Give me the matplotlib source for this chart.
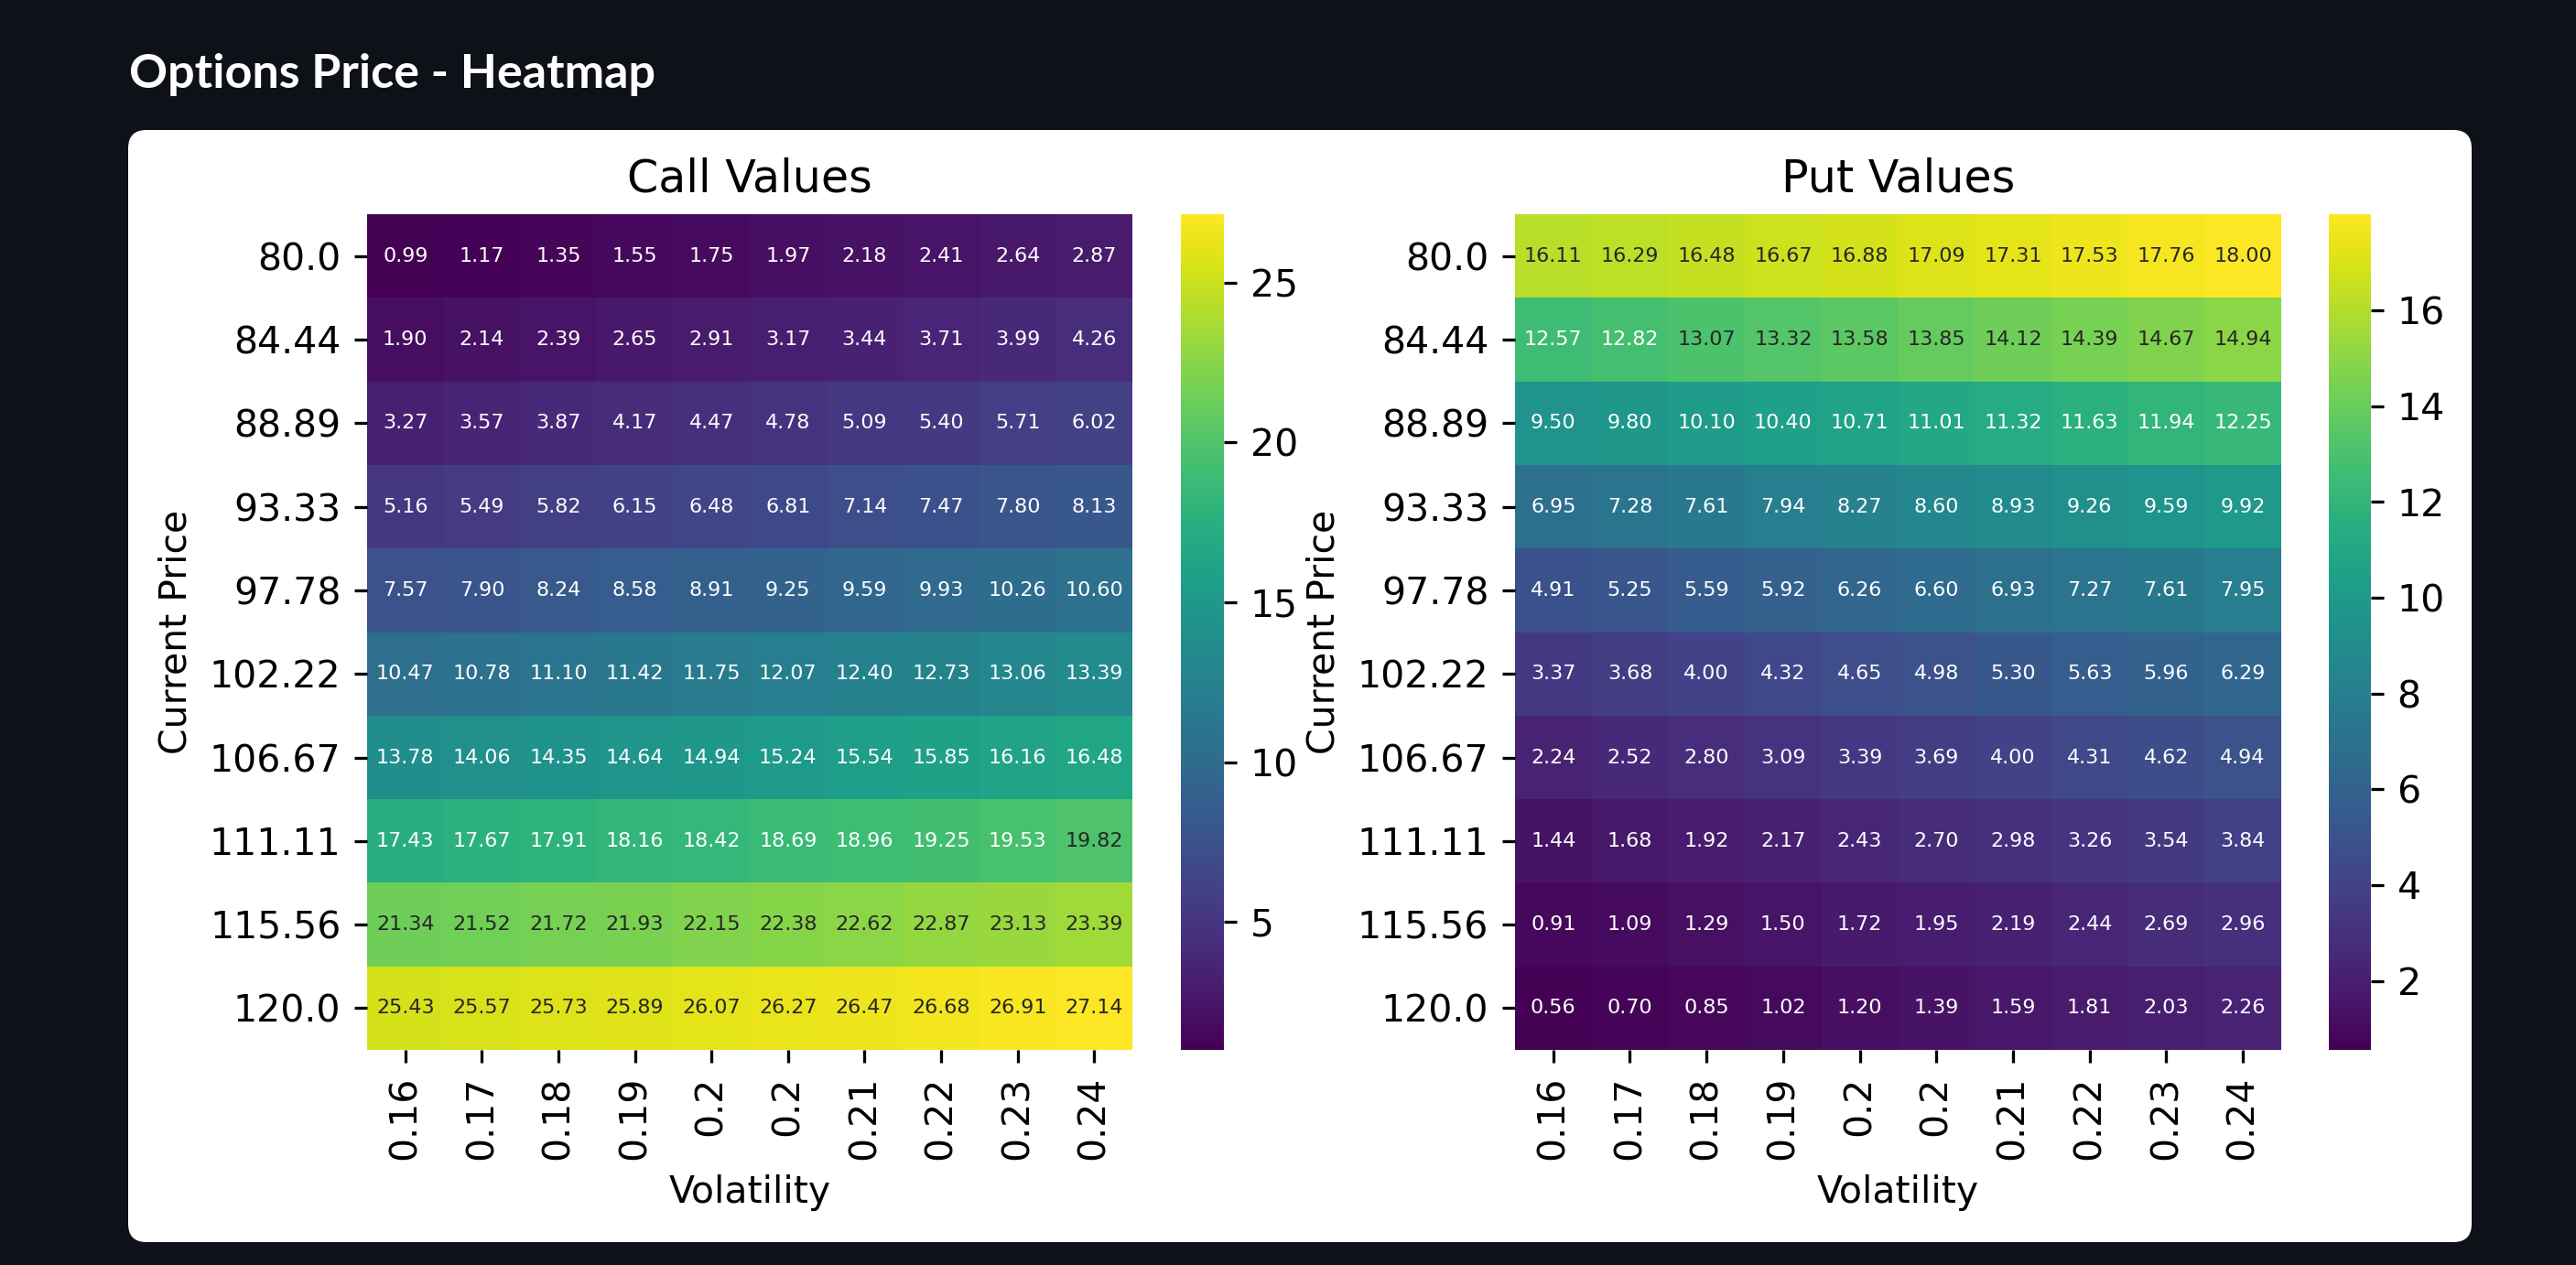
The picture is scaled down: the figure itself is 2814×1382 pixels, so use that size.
import numpy as np
import matplotlib
matplotlib.use("Agg")
import matplotlib.pyplot as plt
from matplotlib.patches import FancyBboxPatch

# Data
volatility_labels = ["0.16", "0.17", "0.18", "0.19", "0.2", "0.2", "0.21", "0.22", "0.23", "0.24"]
price_labels = ["80.0", "84.44", "88.89", "93.33", "97.78", "102.22", "106.67", "111.11", "115.56", "120.0"]

call_values = [
    [0.99, 1.17, 1.35, 1.55, 1.75, 1.97, 2.18, 2.41, 2.64, 2.87],
    [1.90, 2.14, 2.39, 2.65, 2.91, 3.17, 3.44, 3.71, 3.99, 4.26],
    [3.27, 3.57, 3.87, 4.17, 4.47, 4.78, 5.09, 5.40, 5.71, 6.02],
    [5.16, 5.49, 5.82, 6.15, 6.48, 6.81, 7.14, 7.47, 7.80, 8.13],
    [7.57, 7.90, 8.24, 8.58, 8.91, 9.25, 9.59, 9.93, 10.26, 10.60],
    [10.47, 10.78, 11.10, 11.42, 11.75, 12.07, 12.40, 12.73, 13.06, 13.39],
    [13.78, 14.06, 14.35, 14.64, 14.94, 15.24, 15.54, 15.85, 16.16, 16.48],
    [17.43, 17.67, 17.91, 18.16, 18.42, 18.69, 18.96, 19.25, 19.53, 19.82],
    [21.34, 21.52, 21.72, 21.93, 22.15, 22.38, 22.62, 22.87, 23.13, 23.39],
    [25.43, 25.57, 25.73, 25.89, 26.07, 26.27, 26.47, 26.68, 26.91, 27.14],
]

put_values = [
    [16.11, 16.29, 16.48, 16.67, 16.88, 17.09, 17.31, 17.53, 17.76, 18.00],
    [12.57, 12.82, 13.07, 13.32, 13.58, 13.85, 14.12, 14.39, 14.67, 14.94],
    [9.50, 9.80, 10.10, 10.40, 10.71, 11.01, 11.32, 11.63, 11.94, 12.25],
    [6.95, 7.28, 7.61, 7.94, 8.27, 8.60, 8.93, 9.26, 9.59, 9.92],
    [4.91, 5.25, 5.59, 5.92, 6.26, 6.60, 6.93, 7.27, 7.61, 7.95],
    [3.37, 3.68, 4.00, 4.32, 4.65, 4.98, 5.30, 5.63, 5.96, 6.29],
    [2.24, 2.52, 2.80, 3.09, 3.39, 3.69, 4.00, 4.31, 4.62, 4.94],
    [1.44, 1.68, 1.92, 2.17, 2.43, 2.70, 2.98, 3.26, 3.54, 3.84],
    [0.91, 1.09, 1.29, 1.50, 1.72, 1.95, 2.19, 2.44, 2.69, 2.96],
    [0.56, 0.70, 0.85, 1.02, 1.20, 1.39, 1.59, 1.81, 2.03, 2.26],
]

call_cbar_ticks = [5, 10, 15, 20, 25]
put_cbar_ticks = [2, 4, 6, 8, 10, 12, 14, 16]

BG = "#0e1117"
TICK_FS = 29.5
TITLE_FS = 35.4
ANNOT_FS = 16


def text_colour(rgba):
    # same luminance rule seaborn uses for annotations
    rgb = np.array(rgba[:3])
    rgb = np.where(rgb <= .03928, rgb / 12.92, ((rgb + .055) / 1.055) ** 2.4)
    lum = rgb.dot([.2126, .7152, .0722])
    return "0.15" if lum > .408 else "w"


def draw_heatmap(ax, cax, values, title, cbar_ticks):
    data = np.array(values)
    mesh = ax.pcolormesh(data, cmap="viridis")
    ax.set_xlim(0, data.shape[1])
    ax.set_ylim(data.shape[0], 0)
    for side in ax.spines.values():
        side.set_visible(False)

    cmap = mesh.get_cmap()
    norm = mesh.norm
    for i in range(data.shape[0]):
        for j in range(data.shape[1]):
            v = data[i, j]
            ax.text(j + 0.5, i + 0.5, f"{v:.2f}", ha="center", va="center",
                    fontsize=ANNOT_FS, color=text_colour(cmap(norm(v))))

    ax.set_xticks(np.arange(data.shape[1]) + 0.5)
    ax.set_xticklabels(volatility_labels, rotation=90)
    ax.set_yticks(np.arange(data.shape[0]) + 0.5)
    ax.set_yticklabels(price_labels, rotation=0)
    ax.tick_params(labelsize=TICK_FS, length=10.3, width=2.36, pad=10.3)
    ax.set_xlabel("Volatility", fontsize=TICK_FS, labelpad=11.8)
    ax.set_ylabel("Current Price", fontsize=TICK_FS, labelpad=11.8)
    ax.set_title(title, fontsize=TITLE_FS, pad=17.7)

    cbar = ax.figure.colorbar(mesh, cax=cax)
    cbar.set_ticks(cbar_ticks)
    cbar.outline.set_visible(False)
    cax.tick_params(labelsize=TICK_FS, length=10.3, width=2.36, pad=10.3)


fig = plt.figure(figsize=(28.14, 13.82), dpi=100)
fig.patch.set_facecolor(BG)

# white card behind the charts (inches, so the corners stay round)
card = FancyBboxPatch((1.40, 0.25), 25.60, 12.15,
                      boxstyle="round,pad=0,rounding_size=0.2",
                      transform=fig.dpi_scale_trans, facecolor="white",
                      edgecolor="none", zorder=-10)
fig.patches.append(card)

fig.text(0.0501, 0.9305, "Options Price - Heatmap", fontsize=37.5,
         fontweight="bold", family="Lato", color="white", va="baseline")

ax1 = fig.add_axes([0.1425, 0.1700, 0.2971, 0.6606])
cax1 = fig.add_axes([0.4584, 0.1700, 0.0167, 0.6606])
ax2 = fig.add_axes([0.5881, 0.1700, 0.2974, 0.6606])
cax2 = fig.add_axes([0.9041, 0.1700, 0.0163, 0.6606])

draw_heatmap(ax1, cax1, call_values, "Call Values", call_cbar_ticks)
draw_heatmap(ax2, cax2, put_values, "Put Values", put_cbar_ticks)

fig.savefig("out.png", dpi=100, facecolor=BG)
